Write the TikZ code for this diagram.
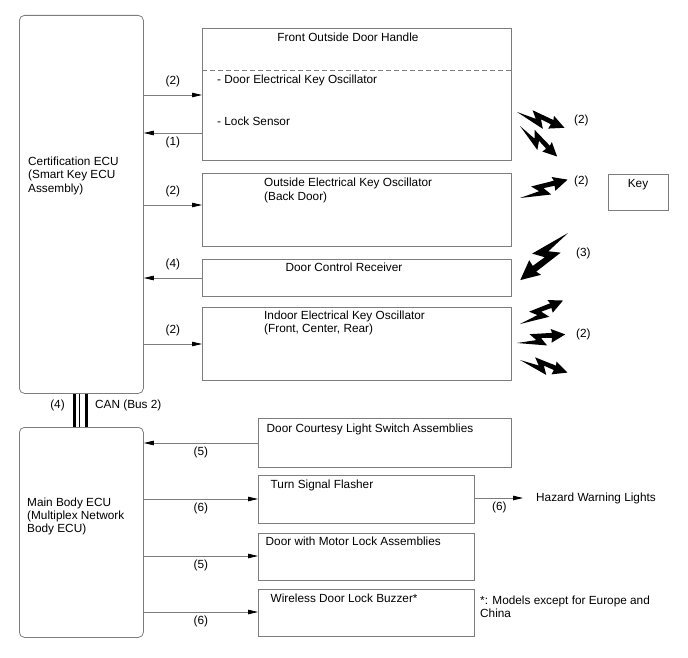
\documentclass[tikz,border=0pt]{standalone}
\usepackage{fontspec}
\setmainfont{Liberation Sans}
\usetikzlibrary{arrows.meta}
\definecolor{boxgrey}{RGB}{125,125,125}
\tikzstyle{unit}=[draw=boxgrey,line width=0.8pt,anchor=north west,inner sep=0pt]
\tikzstyle{ecu}=[unit,rounded corners=5pt]
\tikzstyle{signal}=[draw=boxgrey,line width=0.8pt,-{Triangle[length=10pt,width=4.5pt,color=black]}]
\tikzstyle{txt}=[anchor=base west,inner sep=0pt,align=left]
\tikzstyle{num}=[inner sep=0pt]
\tikzstyle{canwire}=[black,line width=3pt]
\newcommand{\bolt}[3][1]{% [scale] {tail} {angle}
  \fill[black,shift={(#2)},rotate=#3,scale=#1]
    (0,0) -- (20,0) -- (14,-7) -- (37,-4.9) -- (36,-9.1) -- (50,-1.4)
    -- (35,4.9) -- (36,0) -- (25,-1.4) -- (30,7) -- cycle;
}
\begin{document}
\begin{tikzpicture}[x=1pt,y=-1pt,font=\fontsize{11.8}{13.4}\selectfont]
\useasboundingbox (0,0) rectangle (688,658);

% ECUs
\node[ecu,minimum width=124pt,minimum height=378pt] (cert) at (19,15) {};
\node[ecu,minimum width=124pt,minimum height=210pt] (main) at (19,427) {};
\node[txt] (certtext) at (28,192.3) {Certification ECU\\(Smart Key ECU\\Assembly)};
\node[txt] (maintext) at (27,532.8) {Main Body ECU\\(Multiplex Network\\Body ECU)};

% units of the smart key system
\node[unit,minimum width=309pt,minimum height=132pt] (handle) at (202,28) {};
\node[unit,minimum width=309pt,minimum height=73pt] (outside) at (202,173) {};
\node[unit,minimum width=309pt,minimum height=37pt] (receiver) at (202,259) {};
\node[unit,minimum width=309pt,minimum height=73pt] (indoor) at (202,307) {};
\node[unit,minimum width=60pt,minimum height=36pt] (key) at (608,174) {};
\draw[boxgrey,line width=0.8pt,dash pattern=on 5pt off 3pt] (handle.west |- 0,70) -- (handle.east |- 0,70);

\node[num,anchor=base] (handletitle) at (348,41.5) {Front Outside Door Handle};
\node[txt] (osctext) at (217,83.5) {- Door Electrical Key Oscillator};
\node[txt] (sensortext) at (217,126) {- Lock Sensor};
\node[txt] (outsidetext) at (264,200) {Outside Electrical Key Oscillator\\(Back Door)};
\node[num,anchor=base] (receivertext) at (344,271.5) {Door Control Receiver};
\node[txt] (indoortext) at (264,332.4) {Indoor Electrical Key Oscillator\\(Front, Center, Rear)};
\node[num,anchor=base] (keytext) at (638,187) {Key};

% units of the body system
\node[unit,minimum width=253pt,minimum height=49pt] (courtesy) at (258,418) {};
\node[unit,minimum width=216pt,minimum height=48pt] (flasher) at (258,475) {};
\node[unit,minimum width=216pt,minimum height=47pt] (motor) at (258,533) {};
\node[unit,minimum width=216pt,minimum height=47pt] (buzzer) at (258,589) {};
\node[txt] (courtesytext) at (266.5,432) {Door Courtesy Light Switch Assemblies};
\node[txt] (flashertext) at (270.5,488) {Turn Signal Flasher};
\node[txt] (motortext) at (265.5,545.5) {Door with Motor Lock Assemblies};
\node[txt] (buzzertext) at (270.5,602) {Wireless Door Lock Buzzer*};
\node[num,anchor=west] (hazard) at (536,498) {Hazard Warning Lights};
\node[txt] (note) at (480,617.5) {*: Models except for Europe and\\China};

% signals
\draw[signal] (cert.east |- 0,95) -- (handle.west |- 0,95) node[num,midway,above=8pt] (l1) {(2)};
\draw[signal] (handle.west |- 0,133) -- (cert.east |- 0,133) node[num,midway,below=3.5pt] (l2) {(1)};
\draw[signal] (cert.east |- 0,205) -- (outside.west |- 0,205) node[num,midway,above=8pt] (l3) {(2)};
\draw[signal] (receiver.west |- 0,278) -- (cert.east |- 0,278) node[num,midway,above=8pt] (l4) {(4)};
\draw[signal] (cert.east |- 0,344) -- (indoor.west |- 0,344) node[num,midway,above=8pt] (l5) {(2)};
\draw[signal] (courtesy.west |- 0,443) -- (main.east |- 0,443) node[num,midway,below=3.5pt] (l6) {(5)};
\draw[signal] (main.east |- 0,499) -- (flasher.west |- 0,499) node[num,midway,below=3.5pt] (l7) {(6)};
\draw[signal] (main.east |- 0,556) -- (motor.west |- 0,556) node[num,midway,below=3.5pt] (l8) {(5)};
\draw[signal] (main.east |- 0,612) -- (buzzer.west |- 0,612) node[num,midway,below=3.5pt] (l9) {(6)};
\draw[signal,shorten >=13pt] (flasher.east |- hazard.west) -- (hazard.west) node[num,midway,below=3.5pt,xshift=-6pt] (l10) {(6)};

% CAN bus
\draw[canwire] (cert.south -| 74,0) -- (main.north -| 74,0);
\draw[black,line width=1.2pt] (cert.south -| 79.5,0) -- (main.north -| 79.5,0);
\draw[canwire] (cert.south -| 86,0) -- (main.north -| 86,0);
\node[num,anchor=base] (canno) at (57.5,408) {(4)};
\node[txt] (cantext) at (95,408) {CAN (Bus 2)};

% radio waves
\bolt{517,112}{-20}
\bolt[0.96]{520,126}{-41}
\bolt[1.02]{520,198}{19.5}
\bolt[1.34]{568,233}{223}
\bolt[0.98]{520,324}{27}
\bolt[0.98]{517,343}{8.5}
\bolt[0.98]{520,360}{-16.5}
\node[txt] (w1) at (574,124) {(2)};
\node[txt] (w2) at (574,184.5) {(2)};
\node[txt] (w3) at (576,256) {(3)};
\node[txt] (w4) at (576,337.5) {(2)};

\end{tikzpicture}
\end{document}
